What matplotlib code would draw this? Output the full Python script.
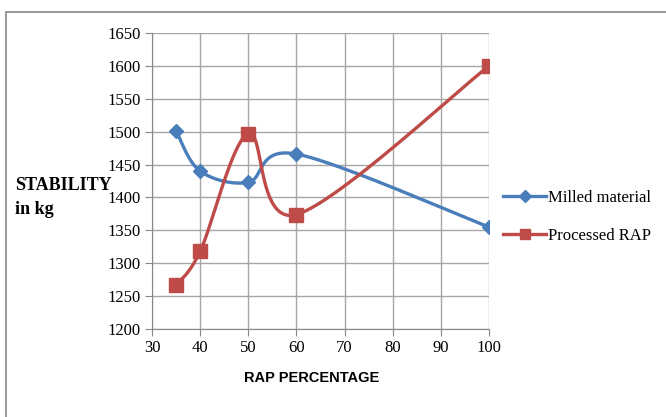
import numpy as np
import matplotlib
matplotlib.use("Agg")
import matplotlib.pyplot as plt
from matplotlib.patches import Rectangle

# data
rap_pct = [35, 40, 50, 60, 100]
milled = [1501, 1440, 1423, 1466, 1355]
processed = [1267, 1318, 1497, 1374, 1600]
x_ticks = [30, 40, 50, 60, 70, 80, 90, 100]
y_ticks = [1200, 1250, 1300, 1350, 1400, 1450, 1500, 1550, 1600, 1650]


def smooth(xs, ys, n=40):
    # Excel-like smoothed line: cubic Bezier segments, Catmull-Rom control points
    p = np.column_stack([xs, ys]).astype(float)
    out = []
    for i in range(len(p) - 1):
        p0 = p[i - 1] if i > 0 else p[i]
        p3 = p[i + 2] if i + 2 < len(p) else p[i + 1]
        c1 = p[i] + (p[i + 1] - p0) / 6
        c2 = p[i + 1] - (p3 - p[i]) / 6
        t = np.linspace(0, 1, n)[:, None]
        seg = ((1 - t) ** 3) * p[i] + 3 * ((1 - t) ** 2) * t * c1 + 3 * (1 - t) * t ** 2 * c2 + t ** 3 * p[i + 1]
        out.append(seg if i == 0 else seg[1:])
    out = np.vstack(out)
    return out[:, 0], out[:, 1]


blue = "#4a7ebb"
red = "#be4b48"
serif = "Liberation Serif"

fig = plt.figure(figsize=(6.66, 4.17), dpi=100)
fig.patches.append(Rectangle((6 / 666, -0.1), 1.2, 1 - 12 / 417 + 0.1, transform=fig.transFigure,
                             fill=False, edgecolor="#888888", linewidth=1.2))
ax = fig.add_axes([152 / 666, 1 - 329 / 417, (489 - 152) / 666, (329 - 33) / 417])

for ys, col, mk, ms, lab in [(milled, blue, "D", 7.5, "Milled material"),
                             (processed, red, "s", 9.5, "Processed RAP")]:
    sx, sy = smooth(rap_pct, ys)
    ax.plot(sx, sy, color=col, linewidth=2.4, solid_capstyle="round")
    ax.plot(rap_pct, ys, linestyle="none", marker=mk, markersize=ms, color=col)
    ax.plot([], [], color=col, linewidth=2.4, marker=mk, markersize=ms * 0.8, label=lab)

ax.set_xlim(30, 100)
ax.set_ylim(1200, 1650)
ax.set_xticks(x_ticks)
ax.set_yticks(y_ticks)
ax.grid(True, color="#a6a6a6", linewidth=1)
ax.set_axisbelow(True)
for s in ["top", "right"]:
    ax.spines[s].set_visible(False)
for s in ["left", "bottom"]:
    ax.spines[s].set_color("#888888")
ax.tick_params(axis="both", length=5, color="#888888", labelsize=12, pad=3)
for lbl in ax.get_xticklabels() + ax.get_yticklabels():
    lbl.set_fontfamily(serif)

fig.text(15 / 666, 1 - 186 / 417, "STABILITY", fontfamily=serif, fontweight="bold", fontsize=13,
         va="center", ha="left")
fig.text(15 / 666, 1 - 209 / 417, "in kg", fontfamily=serif, fontweight="bold", fontsize=13,
         va="center", ha="left")
fig.text(312 / 666, 1 - 378 / 417, "RAP PERCENTAGE", fontfamily="Liberation Sans",
         fontweight="bold", fontsize=10.5, va="center", ha="center")

leg = ax.legend(loc="center left", frameon=False,
                prop={"family": serif, "size": 12}, handlelength=2.6, handletextpad=0.1,
                labelspacing=1.3, borderaxespad=0, borderpad=0,
                bbox_to_anchor=(503 / 666, 1 - 217 / 417), bbox_transform=fig.transFigure)

fig.savefig("out.png", dpi=100)
